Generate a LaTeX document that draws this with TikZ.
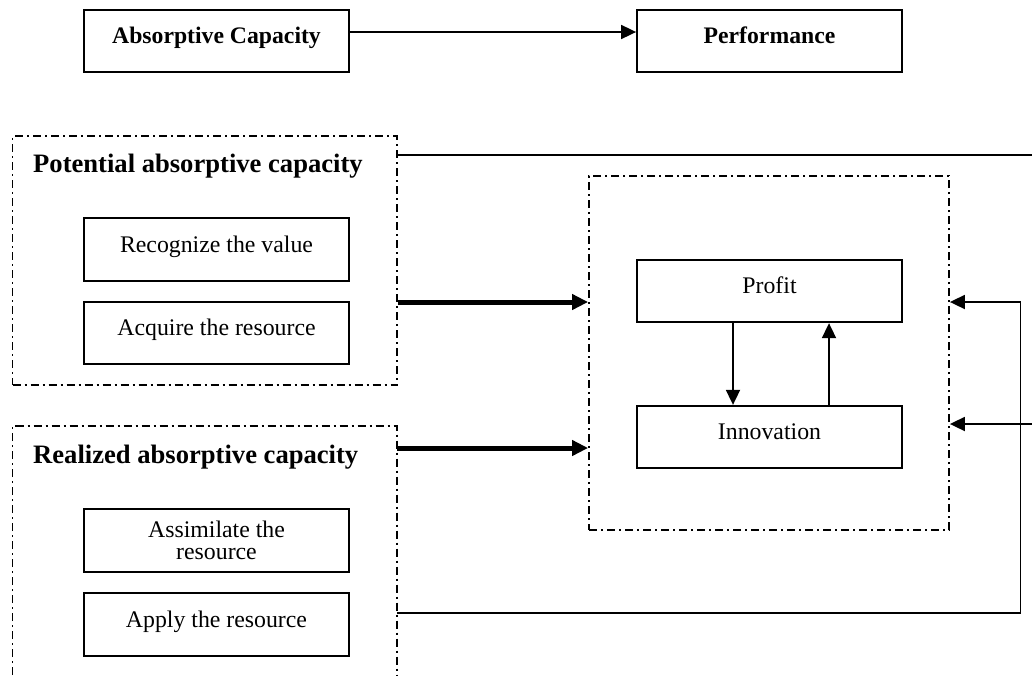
\documentclass[tikz,border=0pt]{standalone}
\usepackage{fontspec}
\setmainfont{Liberation Serif}
\usetikzlibrary{arrows.meta}
\begin{document}
\begin{tikzpicture}[x=1pt,y=-1pt,
  box/.style={draw, line width=1.8pt, minimum width=265pt, minimum height=62.5pt,
    inner sep=0pt, align=center, font=\fontsize{23.8}{19}\selectfont},
  one/.style={text height=12pt, text depth=7pt},
  topbox/.style={box, font=\fontsize{23.7}{28}\selectfont\bfseries},
  ttl/.style={anchor=base west, inner sep=0pt, font=\fontsize{26.6}{30}\selectfont\bfseries},
  dd/.style={draw, line width=1.8pt, dash pattern=on 8pt off 4pt on 2pt off 4pt},
  thinarr/.style={line width=1.8pt, -{Triangle[length=15pt,width=14pt]}},
  thickarr/.style={line width=5pt, -{Triangle[length=16pt,width=15pt]}},
  plain/.style={line width=1.8pt}
]
\useasboundingbox (0,0) rectangle (1032,675);

% top row
\node[topbox, one] (abs) at (216.5,41) {Absorptive Capacity};
\node[topbox, one] (perf) at (769.5,41) {Performance};
\draw[thinarr] ([yshift=9pt]abs.east) -- ([yshift=9pt]perf.west);

% potential absorptive capacity
\node[dd, minimum width=384.5pt, minimum height=249pt, inner sep=0pt] (pot) at (204.75,260.5) {};
\node[ttl] (pottitle) at (33,172) {Potential absorptive capacity};
\node[box, one] (rec) at (216.5,249.5) {Recognize the value};
\node[box, one] (acq) at (216.5,333) {Acquire the resource};

% realized absorptive capacity (open at the bottom)
\draw[dd] (12.5,675) -- (12.5,426) -- (397,426) -- (397,675);
\node[ttl] (realtitle) at (33,463) {Realized absorptive capacity};
\node[box] (assim) at (216.5,540.5) {Assimilate the\\[3pt]resource};
\node[box, one] (appl) at (216.5,624.5) {Apply the resource};
\coordinate (realA) at (397,448);
\coordinate (realB) at (397,613);
\coordinate (cornerB) at (1020.5,613);
\coordinate (cornerT) at (1020.5,302);
\coordinate (rightIn) at (1032,424);
\coordinate (topEnd) at (1032,155);

% performance block
\node[dd, minimum width=360pt, minimum height=354pt, inner sep=0pt] (cen) at (769,353) {};
\node[box, one] (prof) at (769.5,291) {Profit};
\node[box, one] (inno) at (769.5,437) {Innovation};
\draw[thinarr] ([xshift=-36.5pt]prof.south) -- ([xshift=-36.5pt]inno.north);
\draw[thinarr] ([xshift=59.5pt]inno.north) -- ([xshift=59.5pt]prof.south);

% connectors
\draw[plain] ([yshift=105.5pt]pot.east) -- (topEnd);
\draw[thickarr] ([yshift=-41.5pt]pot.east) -- ([yshift=51pt]cen.west);
\draw[thickarr] (realA) -- ([yshift=-95pt]cen.west);
\draw[thinarr] (realB) -- (cornerB) -- (cornerT) -- ([yshift=51pt]cen.east);
\draw[thinarr] (rightIn) -- ([yshift=-71pt]cen.east);
\end{tikzpicture}
\end{document}
